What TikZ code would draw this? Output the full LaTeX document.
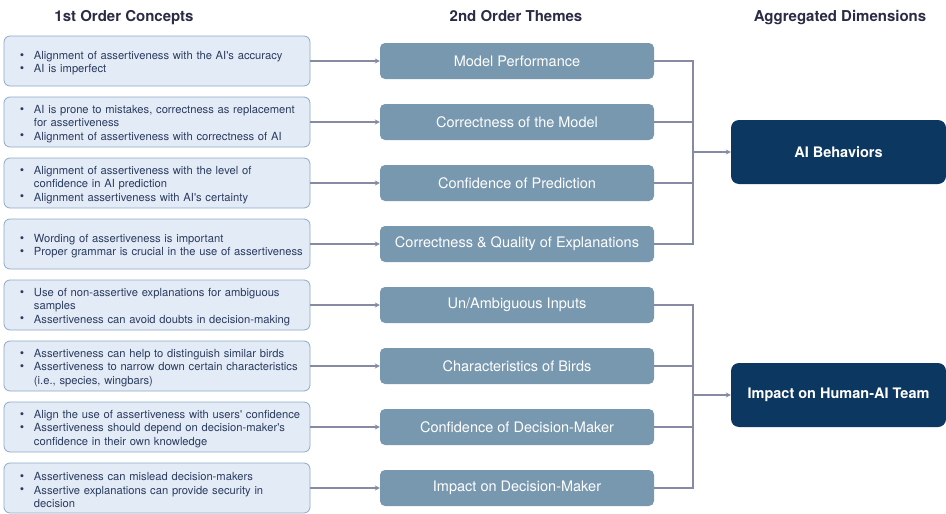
\documentclass[tikz,border=0pt]{standalone}
\usepackage{fontspec}
\setmainfont{TeX Gyre Heros}
\usetikzlibrary{positioning}
\usetikzlibrary{calc}
\usetikzlibrary{shapes.geometric, arrows.meta}

\definecolor{conceptfill}{HTML}{E3ECF6}
\definecolor{conceptdraw}{HTML}{8EA9C6}
\definecolor{concepttext}{HTML}{2A3B60}
\definecolor{themefill}{HTML}{7898B0}
\definecolor{dimfill}{HTML}{0B3760}
\definecolor{linkgray}{HTML}{868AA3}
\definecolor{titletext}{HTML}{2A2B44}

% one bullet point inside a concept box
\newcommand{\bitem}[1]{{\leftskip=15pt\hangindent=14pt\hangafter=1\noindent\makebox[14pt][l]{\raisebox{0.2pt}{\fontsize{12.5}{13}\selectfont\textbullet}}#1\par}}
\newcommand{\conceptgap}{\vspace{-4pt}}

\tikzstyle{concept} = [rectangle, rounded corners=6pt, draw=conceptdraw, fill=conceptfill, line width=0.8pt, minimum width=306pt, minimum height=50pt, text width=304pt, inner xsep=1pt, align=left, text=concepttext, font=\fontsize{11.2}{13.3}\selectfont, execute at end node=\conceptgap]
\tikzstyle{theme} = [rectangle, rounded corners=5pt, fill=themefill, minimum width=274pt, minimum height=36pt, text=white, font=\fontsize{14.5}{17}\selectfont]
\tikzstyle{dimension} = [rectangle, rounded corners=8pt, fill=dimfill, minimum width=215pt, minimum height=64pt, text=white, font=\fontsize{14.5}{17}\selectfont\bfseries]
\tikzstyle{heading} = [anchor=base, text=titletext, font=\fontsize{15}{18}\selectfont\bfseries]
\tikzstyle{arrow} = [line width=2pt, draw=linkgray, -{Stealth[length=5pt,width=5pt]}]
\tikzstyle{link} = [line width=2pt, draw=linkgray]

\begin{document}
\begin{tikzpicture}[x=1pt, y=-1pt]
    \useasboundingbox (0,0) rectangle (946,514);

    % --- headings ---
    \node[heading] at (124, 21.5) (head_concepts) {1st Order Concepts};
    \node[heading] at (516, 21.5) (head_themes) {2nd Order Themes};
    \node[heading] at (840, 21.5) (head_dims) {Aggregated Dimensions};

    % --- 1st order concepts ---
    \node[concept] at (157, 61) (c1) {\bitem{Alignment of assertiveness with the AI\textquotesingle s accuracy}\bitem{AI is imperfect}};
    \node[concept] at (157, 122) (c2) {\bitem{AI is prone to mistakes, correctness as replacement\newline for assertiveness}\bitem{Alignment of assertiveness with correctness of AI}};
    \node[concept] at (157, 183) (c3) {\bitem{Alignment of assertiveness with the level of\newline confidence in AI prediction}\bitem{Alignment assertiveness with AI\textquotesingle s certainty}};
    \node[concept] at (157, 244) (c4) {\bitem{Wording of assertiveness is important}\bitem{Proper grammar is crucial in the use of assertiveness}};
    \node[concept] at (157, 305) (c5) {\bitem{Use of non-assertive explanations for ambiguous\newline samples}\bitem{Assertiveness can avoid doubts in decision-making}};
    \node[concept] at (157, 366) (c6) {\bitem{Assertiveness can help to distinguish similar birds}\bitem{Assertiveness to narrow down certain characteristics\newline (i.e., species, wingbars)}};
    \node[concept] at (157, 427) (c7) {\bitem{Align the use of assertiveness with users\textquotesingle{} confidence}\bitem{Assertiveness should depend on decision-maker\textquotesingle s\newline confidence in their own knowledge}};
    \node[concept] at (157, 488) (c8) {\bitem{Assertiveness can mislead decision-makers}\bitem{Assertive explanations can provide security in\newline decision}};

    % --- 2nd order themes, on the right of the concepts ---
    \node[theme] at ($(c1.center) + (360, 0)$) (t1) {Model Performance};
    \node[theme] at ($(c2.center) + (360, 0)$) (t2) {Correctness of the Model};
    \node[theme] at ($(c3.center) + (360, 0)$) (t3) {Confidence of Prediction};
    \node[theme] at ($(c4.center) + (360, 0)$) (t4) {Correctness \& Quality of Explanations};
    \node[theme] at ($(c5.center) + (360, 0)$) (t5) {Un/Ambiguous Inputs};
    \node[theme] at ($(c6.center) + (360, 0)$) (t6) {Characteristics of Birds};
    \node[theme] at ($(c7.center) + (360, 0)$) (t7) {Confidence of Decision-Maker};
    \node[theme] at ($(c8.center) + (360, 0)$) (t8) {Impact on Decision-Maker};

    % arrows from concepts to themes
    \draw[arrow] (c1) to (t1);
    \draw[arrow] (c2) to (t2);
    \draw[arrow] (c3) to (t3);
    \draw[arrow] (c4) to (t4);
    \draw[arrow] (c5) to (t5);
    \draw[arrow] (c6) to (t6);
    \draw[arrow] (c7) to (t7);
    \draw[arrow] (c8) to (t8);

    % --- aggregated dimensions ---
    \node[dimension] at (838.5, 152) (ai_dim) {AI Behaviors};
    \node[dimension] at (838.5, 395) (team_dim) {Impact on Human-AI Team};

    % joins of the brackets, left of the dimension boxes
    \coordinate (ai_join) at ($(ai_dim.west) + (-38, 0)$);
    \coordinate (team_join) at ($(team_dim.west) + (-38, 0)$);

    % bracket from the first four themes to AI Behaviors
    \draw[link] (t1.east) -| (ai_join);
    \draw[link] (t4.east) -| (ai_join);
    \draw[link] (t2.east) -- (t2.east -| ai_join);
    \draw[link] (t3.east) -- (t3.east -| ai_join);
    \draw[arrow] (ai_join) to (ai_dim.west);

    % bracket from the last four themes to Human-AI Team
    \draw[link] (t5.east) -| (team_join);
    \draw[link] (t8.east) -| (team_join);
    \draw[link] (t6.east) -- (t6.east -| team_join);
    \draw[link] (t7.east) -- (t7.east -| team_join);
    \draw[arrow] (team_join) to (team_dim.west);

\end{tikzpicture}
\end{document}
